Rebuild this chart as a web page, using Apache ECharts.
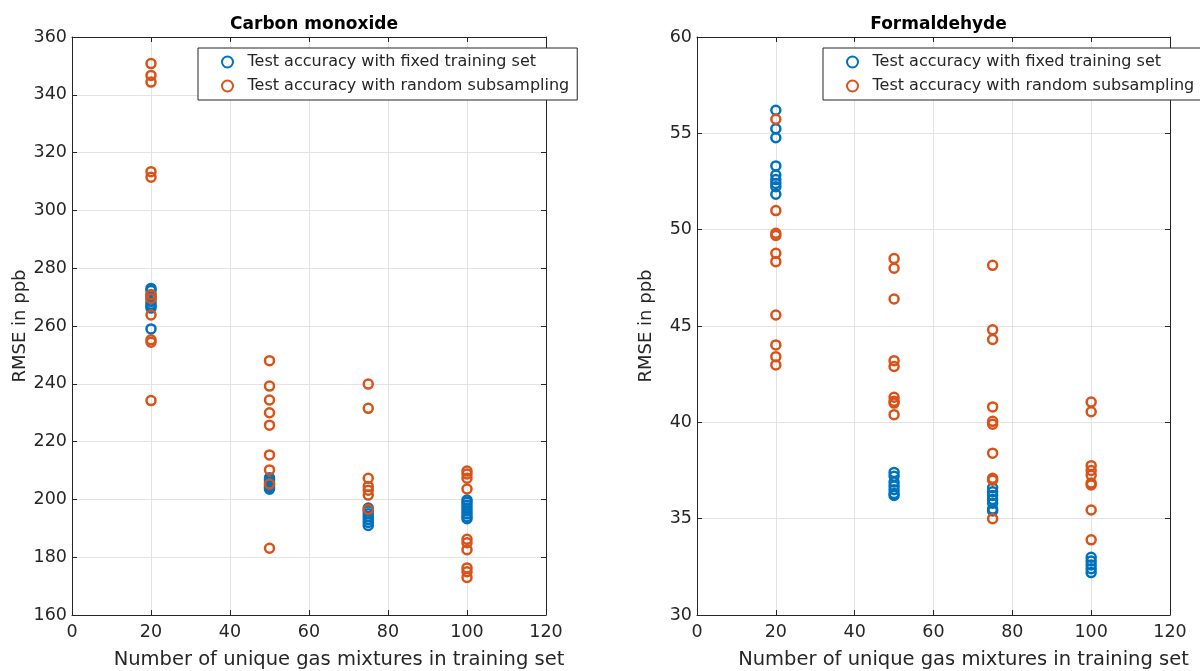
<!DOCTYPE html>
<html>
<head>
<meta charset="utf-8">
<script src="https://cdn.jsdelivr.net/npm/echarts@6/dist/echarts.min.js"></script>
<style>html,body{margin:0;padding:0;background:#fff;}#c{width:1200px;height:671px;}</style>
</head>
<body>
<div id="c"></div>
<script>
// ---- data ----
const titles = ['Carbon monoxide', 'Formaldehyde'];
const seriesNames = ['Test accuracy with fixed training set', 'Test accuracy with random subsampling'];
const xLevels = [20, 50, 75, 100];

// Carbon monoxide (RMSE in ppb)
const coFixed20 = [273.0, 272.3, 270.8, 269.8, 268.5, 267.5, 266.8, 266.2, 259.0];
const coFixed50 = [207.5, 206.8, 206.0, 205.2, 204.5, 204.0, 203.5];
const coFixed75 = [197.0, 196.0, 195.0, 194.0, 193.0, 192.0, 191.0];
const coFixed100 = [199.8, 199.0, 198.0, 197.0, 196.0, 195.0, 194.0, 193.3];
const coRandom20 = [350.8, 346.7, 344.4, 313.4, 311.5, 270.8, 269.5, 263.8, 255.2, 254.4, 234.2];
const coRandom50 = [248.0, 239.2, 234.4, 230.0, 225.7, 215.4, 210.2, 205.3, 183.1];
const coRandom75 = [239.9, 231.5, 207.3, 204.5, 203.2, 201.5, 196.5];
const coRandom100 = [209.8, 208.8, 207.3, 203.6, 186.2, 185.0, 182.6, 176.3, 175.0, 173.0];

// Formaldehyde (RMSE in ppb)
const fdFixed20 = [56.2, 55.24, 54.77, 53.31, 52.84, 52.6, 52.4, 52.23, 51.84];
const fdFixed50 = [37.4, 37.2, 36.9, 36.7, 36.5, 36.3, 36.2];
const fdFixed75 = [36.6, 36.4, 36.2, 36.0, 35.8, 35.5, 35.4];
const fdFixed100 = [33.0, 32.8, 32.6, 32.4, 32.2];
const fdRandom20 = [55.73, 50.99, 49.81, 49.7, 48.77, 48.34, 45.57, 44.02, 43.41, 42.98];
const fdRandom50 = [48.5, 48.0, 46.4, 43.2, 42.9, 41.3, 41.1, 41.0, 40.4];
const fdRandom75 = [48.15, 44.8, 44.3, 40.8, 40.05, 39.9, 38.4, 37.1, 37.0, 35.0];
const fdRandom100 = [41.05, 40.55, 37.75, 37.5, 37.25, 36.85, 36.75, 35.45, 33.9];

const xTicks = {min: 0, max: 120, interval: 20};
const coY = {min: 160, max: 360, interval: 20};
const fdY = {min: 30, max: 60, interval: 5};
const xName = 'Number of unique gas mixtures in training set';
const yName = 'RMSE in ppb';

function pts(groups) {
  const out = [];
  groups.forEach((g, i) => g.forEach(v => out.push([xLevels[i], v])));
  return out;
}
const coFixed = pts([coFixed20, coFixed50, coFixed75, coFixed100]);
const coRandom = pts([coRandom20, coRandom50, coRandom75, coRandom100]);
const fdFixed = pts([fdFixed20, fdFixed50, fdFixed75, fdFixed100]);
const fdRandom = pts([fdRandom20, fdRandom50, fdRandom75, fdRandom100]);

// ---- styling ----
const FONT = 'DejaVu Sans';
const TXT = '#262626';
const BLUE = '#0072BD';
const ORANGE = '#D95319';
const grids = [
  {left: 72, right: 654, top: 37, bottom: 56, outerBoundsMode: 'none', containLabel: false},
  {left: 697, right: 30, top: 37, bottom: 56, outerBoundsMode: 'none', containLabel: false}
];
const plotCenters = [309, 933.5];

const xAxes = [], yAxes = [], series = [], titleArr = [];
[0, 1].forEach(gi => {
  const yr = gi === 0 ? coY : fdY;
  xAxes.push({
    type: 'value', gridIndex: gi, position: 'bottom', min: xTicks.min, max: xTicks.max, interval: xTicks.interval,
    name: xName, nameLocation: 'middle', nameGap: 35,
    nameTextStyle: {fontFamily: FONT, fontSize: 19.5, color: TXT, padding: [0, 0, 0, 60]},
    axisLine: {onZero: false, lineStyle: {color: TXT, width: 1}},
    axisTick: {inside: true, length: 5, lineStyle: {color: TXT}},
    axisLabel: {fontFamily: FONT, fontSize: 17.5, color: TXT, margin: 8},
    splitLine: {show: true, lineStyle: {color: '#e3e3e3', width: 1}}
  });
  xAxes.push({
    type: 'value', gridIndex: gi, position: 'top', min: xTicks.min, max: xTicks.max, interval: xTicks.interval,
    axisLine: {onZero: false, lineStyle: {color: TXT, width: 1}},
    axisTick: {inside: true, length: 5, lineStyle: {color: TXT}},
    axisLabel: {show: false}, splitLine: {show: false}
  });
  yAxes.push({
    type: 'value', gridIndex: gi, position: 'left', min: yr.min, max: yr.max, interval: yr.interval,
    name: yName, nameLocation: 'middle', nameGap: 42,
    nameTextStyle: {fontFamily: FONT, fontSize: 18, color: TXT},
    axisLine: {onZero: false, lineStyle: {color: TXT, width: 1}},
    axisTick: {inside: true, length: 5, lineStyle: {color: TXT}},
    axisLabel: {fontFamily: FONT, fontSize: 17.5, color: TXT, margin: 5},
    splitLine: {show: true, lineStyle: {color: '#e3e3e3', width: 1}}
  });
  yAxes.push({
    type: 'value', gridIndex: gi, position: 'right', min: yr.min, max: yr.max, interval: yr.interval,
    axisLine: {onZero: false, lineStyle: {color: TXT, width: 1}},
    axisTick: {inside: true, length: 5, lineStyle: {color: TXT}},
    axisLabel: {show: false}, splitLine: {show: false}
  });
  titleArr.push({
    text: titles[gi], left: plotCenters[gi], top: 11, textAlign: 'center',
    textStyle: {fontFamily: FONT, fontSize: 17, fontWeight: 'bold', color: '#000'}
  });
  const data = gi === 0 ? [coFixed, coRandom] : [fdFixed, fdRandom];
  [BLUE, ORANGE].forEach((col, si) => {
    series.push({
      type: 'scatter', name: seriesNames[si], xAxisIndex: gi * 2, yAxisIndex: gi * 2,
      data: data[si], symbol: 'circle', symbolSize: 9,
      itemStyle: {color: 'rgba(255,255,255,0)', borderColor: col, borderWidth: 2.5, opacity: 1},
      emphasis: {disabled: true}, silent: true, z: 2 + si
    });
  });
});

const legendBase = {
  data: seriesNames, orient: 'vertical', top: 48,
  padding: [6, 8, 6, 23], itemGap: 8, itemWidth: 30, itemHeight: 11,
  borderColor: TXT, borderWidth: 1, backgroundColor: '#fff',
  textStyle: {fontFamily: FONT, fontSize: 16, color: TXT, lineHeight: 14},
  selectedMode: false
};
const legends = [Object.assign({}, legendBase, {left: 198}), Object.assign({}, legendBase, {left: 823})];

const chart = echarts.init(document.getElementById('c'), null, {renderer: 'canvas'});
chart.setOption({
  animation: false,
  backgroundColor: '#fff',
  title: titleArr,
  grid: grids,
  xAxis: xAxes,
  yAxis: yAxes,
  legend: legends,
  series: series
});
</script>
</body>
</html>
